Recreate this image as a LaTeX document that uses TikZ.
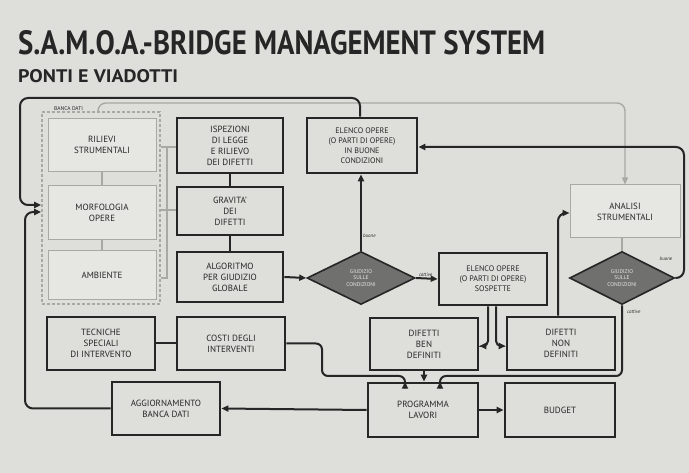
\documentclass[tikz,border=0pt]{standalone}
\usepackage{fontspec}
\setmainfont{PT Sans}
\usetikzlibrary{arrows.meta,shapes.geometric}
\definecolor{paper}{RGB}{222,222,218}
\definecolor{ink}{RGB}{38,38,38}
\definecolor{faint}{RGB}{168,168,165}
\definecolor{lightbox}{RGB}{230,230,227}
\definecolor{dia}{RGB}{112,112,110}
\begin{document}
\begin{tikzpicture}[x=1pt,y=-1pt,
  box/.style={draw=ink, line width=2.6pt, align=center, text=ink, inner sep=0pt,
    font=\fontsize{9}{11}\selectfont},
  lbox/.style={draw=faint, line width=1pt, fill=lightbox, align=center, text=ink, inner sep=0pt,
    font=\fontsize{9}{11}\selectfont},
  dbox/.style={draw=faint, line width=1.6pt, dash pattern=on 3pt off 2pt, inner sep=0pt},
  decide/.style={diamond, draw=ink, line width=1.6pt, fill=dia, inner sep=0pt, align=center,
    text=lightbox, font=\fontsize{5.5}{6.5}\selectfont},
  conn/.style={draw=ink, line width=2pt},
  lconn/.style={draw=faint, line width=1.4pt},
  arr/.style={-{Triangle[length=7pt,width=6pt]}},
  tag/.style={font=\fontsize{5}{6}\selectfont\itshape, text=ink, inner sep=1pt}
]
\useasboundingbox[fill=paper] (0,0) rectangle (689,473);

% titles
\node[anchor=north west, inner sep=0pt, text=ink] (title) at (18,30)
  {\resizebox{527pt}{24pt}{\bfseries S.A.M.O.A.-BRIDGE MANAGEMENT SYSTEM}};
\node[anchor=north west, inner sep=0pt, text=ink] (subtitle) at (18,69)
  {\resizebox{160pt}{13pt}{\bfseries PONTI E VIADOTTI}};

% banca dati
\node[dbox, minimum width=118pt, minimum height=192pt] (banca) at (101,208) {};
\node[anchor=south west, inner sep=0pt, text=ink, font=\fontsize{5.5}{6}\selectfont] (bancalab) at (54,111) {BANCA DATI};
\node[lbox, minimum width=108pt, minimum height=53pt] (ril) at (102,145) {RILIEVI\\STRUMENTALI};
\node[lbox, minimum width=108pt, minimum height=54pt] (morf) at (102,212.5) {MORFOLOGIA\\OPERE};
\node[lbox, minimum width=108pt, minimum height=49pt] (amb) at (102,275) {AMBIENTE};

% column 2
\node[box, minimum width=106pt, minimum height=55pt] (isp) at (230,145.5) {ISPEZIONI\\DI LEGGE\\E RILIEVO\\DEI DIFETTI};
\node[box, minimum width=106pt, minimum height=48pt] (grav) at (230,211) {GRAVITA'\\DEI\\DIFETTI};
\node[box, minimum width=106pt, minimum height=50pt] (alg) at (230,277) {ALGORITMO\\PER GIUDIZIO\\GLOBALE};

% column 3
\node[box, minimum width=110pt, minimum height=55pt, font=\fontsize{8}{10}\selectfont] (buone) at (362,145.5) {ELENCO OPERE\\(O PARTI DI OPERE)\\IN BUONE\\CONDIZIONI};
\node[decide, minimum width=108pt, minimum height=53pt] (dia1) at (361,278) {GIUDIZIO\\SULLE\\CONDIZIONI};
\node[box, minimum width=108pt, minimum height=52pt, font=\fontsize{8}{10}\selectfont] (sosp) at (493,279) {ELENCO OPERE\\(O PARTI DI OPERE)\\SOSPETTE};

% right
\node[lbox, minimum width=110pt, minimum height=53pt] (anal) at (625,211.5) {ANALISI\\STRUMENTALI};
\node[decide, minimum width=105pt, minimum height=53pt] (dia2) at (622,278) {GIUDIZIO\\SULLE\\CONDIZIONI};

% lower rows
\node[box, minimum width=108pt, minimum height=53pt] (tec) at (101,343.5) {TECNICHE\\SPECIALI\\DI INTERVENTO};
\node[box, minimum width=108pt, minimum height=53pt] (costi) at (231,343.5) {COSTI DEGLI\\INTERVENTI};
\node[box, minimum width=108pt, minimum height=52pt] (ben) at (424,344) {DIFETTI\\BEN\\DEFINITI};
\node[box, minimum width=108pt, minimum height=53pt] (non) at (561,343.5) {DIFETTI\\NON\\DEFINITI};
\node[box, minimum width=108pt, minimum height=53pt] (agg) at (166,408.5) {AGGIORNAMENTO\\BANCA DATI};
\node[box, minimum width=110pt, minimum height=54pt] (prog) at (423,410) {PROGRAMMA\\LAVORI};
\node[box, minimum width=110pt, minimum height=54pt] (bud) at (560,410) {BUDGET};

% faint links
\draw[lconn] (ril) -- (morf);
\draw[lconn] (morf) -- (amb);
\draw[lconn] (banca.east |- 0,147) -- (isp.west |- 0,147);
\draw[lconn] (167,147) -- (167,278) -- (banca.east |- 0,278);
\draw[lconn] (banca.east |- 0,210) -- (grav.west |- 0,210);
\draw[lconn, arr, rounded corners=8pt] (98,112) -- (98,103) -- (625,103) -- (anal.north);
\draw[lconn] (anal.south -| dia2.north) -- (dia2.north);

% main connectors
\draw[conn, arr, rounded corners=8pt] (buone.north -| 360,0) -- (360,98) -- (20,98) -- (20,205) -- (banca.west |- 0,205);
\draw[conn, arr, rounded corners=8pt] (agg.west) -- (25,408.5) -- (25,212) -- (banca.west |- 0,212);
\draw[conn] (isp) -- (grav);
\draw[conn] (grav) -- (alg);
\draw[conn, arr] (alg.east) -- (dia1.west);
\draw[conn, arr] (dia1.north) -- (buone.south -| dia1.north) node[tag, pos=0.2, right] {buone};
\draw[conn, arr] (dia1.east) -- (sosp.west) node[tag, pos=0.45, above] {cattive};
\draw[conn, arr, rounded corners=8pt] (dia2.east) -- (684,278) -- (684,147) -- (buone.east |- 0,147);
\node[tag, anchor=south] (tb2) at (666,262) {buone};
\draw[conn, arr, rounded corners=6pt] (dia2.south) -- (622,376) -- (440,376) -- (prog.north -| 440,0);
\node[tag, anchor=west] (tc2) at (626,312) {cattive};
\draw[conn, arr, rounded corners=8pt] (non.north -| 558,0) -- (558,213) -- (anal.west |- 0,213);
\draw[conn, arr, rounded corners=5pt] (sosp.south -| 488,0) -- (488,346) -- (ben.east |- 0,346);
\draw[conn, arr, rounded corners=5pt] (sosp.south -| 496,0) -- (496,346) -- (non.west |- 0,346);
\draw[conn, arr] (ben.south) -- (prog.north -| ben.south);
\draw[conn] (tec) -- (costi);
\draw[conn, arr, rounded corners=6pt] (costi.east) -- (322,343.5) -- (322,376) -- (405,376) -- (prog.north -| 405,0);
\draw[conn, arr] (prog.west) -- (agg.east);
\draw[conn, arr] (prog.east) -- (bud.west);
\end{tikzpicture}
\end{document}
